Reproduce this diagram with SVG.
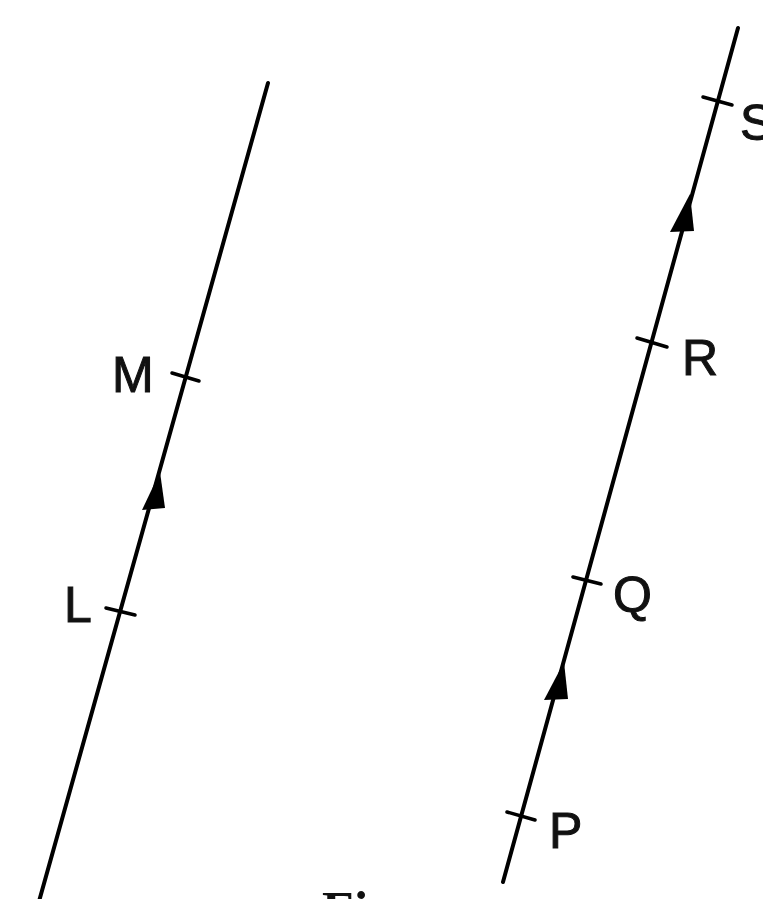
<svg xmlns="http://www.w3.org/2000/svg" width="763" height="899" viewBox="0 0 763 899">
<style>
.ln{stroke:#000;stroke-width:4;fill:none;stroke-linecap:round}
.tk{stroke:#000;stroke-width:3.5;fill:none;stroke-linecap:round}
.ah{fill:#000}
.lb{font-family:"Liberation Sans",Arial,sans-serif;font-size:50px;fill:#111;stroke:#111;stroke-width:1}
.fg{font-family:"Liberation Serif","Times New Roman",serif;font-size:52px;font-weight:bold;fill:#111}
</style>
<rect width="763" height="899" fill="#fff"/>
<g id="connectors">
  <line class="ln" x1="268" y1="83" x2="38" y2="905"/>
  <line class="ln" x1="738" y1="28" x2="503" y2="882"/>
  <polygon class="ah" points="160,472 142,510 165,508"/>
  <polygon class="ah" points="690,194 670,232 694,231"/>
  <polygon class="ah" points="564,662 544,700 568,699"/>
</g>
<g id="node-M">
  <line class="tk" x1="172" y1="373" x2="199" y2="381"/>
  <text class="lb" x="112" y="392">M</text>
</g>
<g id="node-L">
  <line class="tk" x1="106" y1="608" x2="135" y2="615"/>
  <text class="lb" x="64" y="622">L</text>
</g>
<g id="node-S">
  <line class="tk" x1="703" y1="97" x2="732" y2="105"/>
  <text class="lb" x="740" y="140">S</text>
</g>
<g id="node-R">
  <line class="tk" x1="637" y1="338" x2="667" y2="347"/>
  <text class="lb" x="682" y="375">R</text>
</g>
<g id="node-Q">
  <line class="tk" x1="573" y1="577" x2="601" y2="584"/>
  <text class="lb" x="613" y="612">Q</text>
</g>
<g id="node-P">
  <line class="tk" x1="507" y1="812" x2="535" y2="820"/>
  <text class="lb" x="549" y="848">P</text>
</g>
<text class="fg" x="322" y="928">Fig</text>
</svg>
